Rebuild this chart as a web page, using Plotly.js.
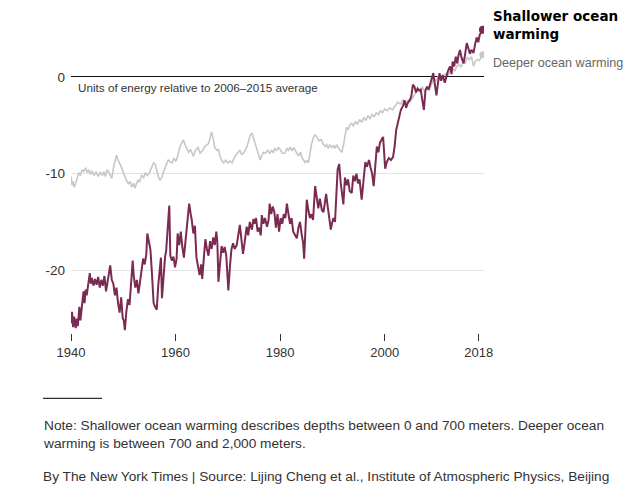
<!DOCTYPE html>
<html>
<head>
<meta charset="utf-8">
<script src="https://cdn.plot.ly/plotly-3.0.1.min.js"></script>
<style>html,body{margin:0;padding:0;background:#fff;}#chart{width:641px;height:499px;}</style>
</head>
<body>
<div id="chart"></div>
<script>
// Shallower ocean warming (0-700 m), units of energy relative to 2006-2015 average
const shallowYears = [1940.0,1940.2,1940.4,1940.6,1940.9,1941.1,1941.3,1941.6,1941.8,1942.0,1942.2,1942.4,1942.6,1942.8,1943.0,1943.3,1943.6,1943.8,1944.0,1944.3,1944.6,1944.9,1945.2,1945.5,1945.8,1946.1,1946.4,1946.7,1947.0,1947.3,1947.5,1947.8,1948.1,1948.4,1948.7,1949.0,1949.3,1949.6,1949.9,1950.1,1950.3,1950.6,1950.9,1951.2,1951.5,1951.8,1952.0,1952.3,1952.6,1952.9,1953.2,1953.5,1953.8,1954.1,1954.4,1954.6,1954.9,1955.2,1955.5,1955.8,1956.1,1956.4,1956.7,1957.0,1957.2,1957.4,1957.7,1958.0,1958.2,1958.5,1958.8,1959.0,1959.3,1959.6,1959.9,1960.2,1960.4,1960.7,1961.0,1961.3,1961.6,1961.9,1962.2,1962.6,1962.9,1963.1,1963.4,1963.7,1964.0,1964.3,1964.6,1964.9,1965.1,1965.4,1965.7,1966.0,1966.3,1966.6,1966.9,1967.2,1967.5,1967.8,1968.0,1968.2,1968.5,1968.8,1969.1,1969.4,1969.7,1969.9,1970.1,1970.4,1970.7,1971.0,1971.3,1971.7,1972.0,1972.3,1972.6,1972.9,1973.2,1973.6,1973.9,1974.2,1974.6,1974.9,1975.1,1975.4,1975.7,1976.0,1976.3,1976.5,1976.8,1977.1,1977.5,1977.8,1978.0,1978.3,1978.6,1978.9,1979.2,1979.5,1979.8,1980.1,1980.4,1980.7,1981.0,1981.3,1981.6,1981.9,1982.2,1982.5,1982.9,1983.2,1983.5,1983.8,1984.1,1984.4,1984.6,1984.9,1985.1,1985.4,1985.7,1986.0,1986.3,1986.7,1987.0,1987.3,1987.6,1988.0,1988.3,1988.6,1988.8,1989.1,1989.4,1989.7,1989.9,1990.2,1990.5,1990.8,1991.0,1991.3,1991.6,1992.1,1992.4,1992.7,1993.0,1993.3,1993.7,1994.0,1994.3,1994.6,1994.9,1995.2,1995.6,1995.9,1996.3,1996.6,1997.0,1997.3,1997.6,1997.9,1998.2,1998.5,1998.8,1999.1,1999.4,1999.7,2000.1,2000.4,2000.8,2001.2,2001.6,2001.9,2002.2,2002.5,2002.8,2003.1,2003.5,2003.8,2004.1,2004.4,2004.8,2005.1,2005.4,2005.7,2006.0,2006.3,2006.6,2006.9,2007.2,2007.5,2007.8,2008.1,2008.4,2008.7,2009.0,2009.3,2009.6,2009.9,2010.2,2010.5,2010.8,2011.1,2011.5,2011.8,2012.1,2012.5,2012.8,2013.0,2013.3,2013.6,2013.9,2014.1,2014.4,2014.7,2015.1,2015.4,2015.7,2016.0,2016.3,2016.6,2017.0,2017.3,2017.6,2017.9,2018.2,2018.5,2018.8];
const shallowValues = [-25.5,-24.3,-25.9,-24.8,-26.0,-25.0,-25.8,-23.8,-25.2,-24.0,-23.2,-22.2,-23.4,-22.0,-22.6,-21.2,-20.3,-21.4,-20.8,-21.6,-20.9,-21.5,-20.7,-21.8,-21.0,-21.6,-20.6,-22.2,-21.0,-20.2,-19.5,-21.0,-21.4,-22.6,-21.8,-23.4,-24.4,-22.8,-25.0,-25.2,-26.2,-24.2,-23.0,-23.6,-21.4,-19.0,-20.6,-21.8,-21.0,-22.4,-21.2,-20.2,-18.8,-19.4,-18.4,-16.2,-17.0,-17.9,-20.5,-23.4,-23.8,-24.1,-21.5,-19.2,-18.7,-22.9,-20.4,-18.6,-18.0,-16.0,-13.3,-18.5,-19.0,-18.6,-19.7,-18.8,-16.2,-17.4,-16.0,-17.6,-18.7,-17.0,-15.0,-13.1,-14.2,-14.8,-16.2,-15.4,-18.7,-19.8,-20.5,-19.4,-20.9,-18.8,-16.8,-17.8,-18.5,-17.0,-17.8,-16.6,-17.4,-16.0,-17.2,-21.2,-19.0,-17.5,-18.2,-17.6,-18.5,-20.4,-22.1,-19.6,-17.8,-17.2,-17.8,-17.4,-16.4,-15.3,-16.8,-18.3,-17.2,-15.5,-16.4,-15.0,-15.8,-14.7,-15.2,-14.6,-16.0,-15.6,-16.4,-14.3,-15.2,-14.6,-15.5,-14.8,-13.1,-14.2,-13.4,-14.0,-15.6,-14.2,-16.0,-14.6,-15.2,-14.2,-14.6,-13.1,-14.2,-15.2,-14.6,-16.0,-16.4,-16.7,-15.6,-15.0,-16.2,-17.2,-18.8,-15.4,-12.7,-13.8,-14.6,-14.2,-14.8,-11.3,-12.8,-13.6,-12.6,-13.8,-14.0,-13.0,-12.1,-13.4,-14.8,-15.8,-15.2,-14.6,-15.0,-12.0,-9.6,-9.0,-11.0,-13.2,-10.4,-11.2,-10.6,-11.8,-12.0,-10.2,-10.8,-10.0,-11.0,-10.6,-12.7,-11.0,-8.8,-9.3,-8.6,-9.4,-10.0,-11.3,-9.0,-7.2,-7.8,-6.8,-6.5,-6.2,-9.5,-8.8,-8.4,-8.6,-8.3,-7.2,-5.5,-4.8,-4.1,-3.4,-3.0,-2.4,-3.2,-2.7,-2.4,-2.0,-0.8,-1.0,-1.6,-1.2,-1.4,-1.3,-2.4,-3.4,-1.4,-1.0,-1.3,-0.7,-0.2,0.4,-0.8,-1.9,-0.6,0.4,-0.4,0.2,-0.6,0.0,0.6,1.1,0.3,1.6,1.1,2.1,1.4,2.2,2.8,2.0,1.4,2.4,3.5,3.0,2.4,2.8,2.5,3.4,4.1,3.6,4.4,4.6,4.9];

// Deeper ocean warming (700-2,000 m)
const deepYears = [1940.0,1940.2,1940.4,1940.6,1940.9,1941.2,1941.5,1941.8,1942.1,1942.4,1942.8,1943.1,1943.4,1943.7,1944.0,1944.4,1944.8,1945.2,1945.6,1946.0,1946.3,1946.6,1946.9,1947.3,1947.8,1948.2,1948.7,1949.0,1949.4,1949.7,1950.0,1950.3,1950.6,1951.0,1951.3,1951.6,1952.0,1952.2,1952.5,1952.8,1953.1,1953.5,1953.9,1954.2,1954.6,1955.0,1955.4,1955.8,1956.1,1956.4,1956.7,1957.0,1957.4,1957.7,1958.0,1958.3,1958.6,1959.0,1959.3,1959.7,1960.0,1960.2,1960.5,1960.8,1961.1,1961.5,1961.8,1962.1,1962.5,1962.9,1963.2,1963.4,1963.8,1964.3,1964.7,1965.2,1965.6,1966.0,1966.3,1966.6,1966.9,1967.2,1967.5,1967.9,1968.2,1968.5,1968.8,1969.2,1969.6,1970.0,1970.4,1970.8,1971.1,1971.4,1971.8,1972.3,1972.6,1973.0,1973.3,1973.6,1974.0,1974.3,1974.6,1974.9,1975.1,1975.5,1975.9,1976.2,1976.5,1976.8,1977.2,1977.6,1978.0,1978.4,1978.7,1979.0,1979.3,1979.7,1980.0,1980.4,1980.9,1981.3,1981.6,1981.9,1982.3,1982.6,1982.9,1983.2,1983.5,1983.9,1984.2,1984.5,1984.8,1985.1,1985.4,1985.7,1986.0,1986.4,1986.7,1987.0,1987.4,1987.9,1988.2,1988.6,1988.9,1989.2,1989.5,1989.9,1990.2,1990.5,1990.8,1991.1,1991.4,1991.8,1992.1,1992.4,1992.7,1993.0,1993.3,1993.7,1994.0,1994.4,1994.8,1995.2,1995.6,1996.0,1996.4,1996.8,1997.2,1997.6,1998.0,1998.4,1998.8,1999.2,1999.6,2000.0,2000.5,2001.0,2001.5,2002.0,2002.5,2003.0,2003.5,2004.0,2004.5,2005.0,2005.5,2006.0,2006.4,2006.8,2007.2,2007.6,2008.0,2008.5,2009.0,2009.4,2009.8,2010.2,2010.6,2011.0,2011.4,2011.8,2012.2,2012.6,2013.0,2013.4,2013.8,2014.2,2014.6,2015.0,2015.4,2015.8,2016.2,2016.6,2017.0,2017.3,2017.7,2018.1,2018.5,2018.8];
const deepValues = [-10.3,-11.2,-10.8,-11.4,-11.0,-10.4,-9.9,-10.2,-9.6,-9.8,-9.4,-9.9,-9.6,-10.1,-9.7,-10.2,-9.8,-10.3,-9.9,-10.2,-9.8,-10.3,-9.6,-9.9,-10.5,-9.2,-8.1,-8.6,-9.0,-9.4,-9.9,-10.4,-10.7,-11.1,-10.8,-11.4,-11.0,-11.5,-11.0,-10.7,-10.9,-10.2,-10.4,-9.9,-10.2,-9.9,-9.4,-8.9,-9.0,-9.8,-10.3,-10.7,-10.4,-9.8,-9.3,-9.0,-8.6,-8.8,-8.9,-8.4,-8.7,-8.6,-7.8,-7.3,-6.9,-6.5,-7.0,-7.3,-7.8,-7.5,-8.0,-8.2,-7.6,-7.3,-7.9,-7.6,-7.2,-7.0,-6.9,-6.3,-5.7,-6.4,-7.3,-7.6,-7.5,-8.2,-8.6,-8.9,-8.6,-8.9,-8.7,-8.9,-8.5,-8.2,-7.9,-7.6,-8.0,-7.9,-7.6,-7.3,-6.6,-6.0,-5.8,-6.3,-6.6,-7.2,-7.9,-8.6,-8.1,-7.8,-7.9,-7.6,-7.9,-7.6,-7.8,-7.4,-7.6,-7.3,-7.5,-7.9,-7.9,-7.4,-7.6,-7.3,-7.6,-7.3,-7.6,-7.9,-8.2,-7.8,-8.4,-8.6,-8.9,-8.6,-8.9,-8.0,-7.0,-6.2,-6.0,-6.2,-6.6,-6.5,-6.9,-7.2,-7.0,-7.4,-7.0,-7.3,-7.1,-7.4,-7.0,-7.3,-7.5,-7.8,-7.1,-6.0,-5.2,-5.5,-5.0,-4.8,-5.1,-4.6,-4.9,-4.4,-4.7,-4.2,-4.5,-4.0,-4.3,-3.9,-4.1,-3.7,-3.9,-3.5,-3.7,-3.3,-3.5,-3.2,-3.4,-3.0,-2.6,-2.8,-2.4,-2.7,-2.4,-2.5,-2.0,-1.6,-1.2,-1.6,-1.0,-1.5,-1.1,-1.4,-0.6,-0.2,-0.4,0.0,-0.3,0.0,0.2,0.4,0.2,0.7,0.9,0.6,1.1,1.3,1.0,1.6,1.4,2.0,1.8,2.1,1.1,1.6,1.8,1.7,2.0,2.3];

const xTicks = [1940, 1960, 1980, 2000, 2018];
const yTicks = [-20, -10, 0];
const yTickLabels = ['-20', '-10', '0'];

const shallowColor = '#7b2a52';
const deepColor = '#c9c7c4';
const font = 'Liberation Sans, Arial, sans-serif';

const traces = [
  {x: deepYears, y: deepValues, type: 'scatter', mode: 'lines',
   line: {color: deepColor, width: 1.6}, hoverinfo: 'skip'},
  {x: [deepYears[deepYears.length-1]], y: [deepValues[deepValues.length-1]], type: 'scatter', mode: 'markers',
   marker: {color: deepColor, size: 7}, hoverinfo: 'skip'},
  {x: shallowYears, y: shallowValues, type: 'scatter', mode: 'lines',
   line: {color: shallowColor, width: 2}, hoverinfo: 'skip'},
  {x: [shallowYears[shallowYears.length-1]], y: [shallowValues[shallowValues.length-1]], type: 'scatter', mode: 'markers',
   marker: {color: shallowColor, size: 8}, hoverinfo: 'skip'}
];

const layout = {
  width: 641, height: 499,
  margin: {l: 71, r: 157, t: 19, b: 166, pad: 0},
  paper_bgcolor: '#fff', plot_bgcolor: '#fff',
  showlegend: false,
  font: {family: font, size: 13, color: '#333'},
  xaxis: {
    range: [1940, 2019], tickvals: xTicks, ticktext: xTicks.map(String),
    showgrid: false, zeroline: false, showline: false,
    ticks: 'outside', ticklen: 7, tickwidth: 1, tickcolor: '#333',
    tickfont: {family: font, size: 13, color: '#333'}
  },
  yaxis: {
    range: [-26.5, 6], tickvals: yTicks, ticktext: yTickLabels,
    showgrid: true, gridcolor: '#e3e3e3', gridwidth: 1,
    zeroline: true, zerolinecolor: '#111', zerolinewidth: 1,
    showline: false, ticks: '', ticklabelstandoff: 5,
    tickfont: {family: font, size: 13.5, color: '#333'}
  },
  shapes: [
    {type: 'line', xref: 'paper', yref: 'paper', x0: -0.0678, x1: 0.0751, y0: -0.208, y1: -0.208,
     line: {color: '#000', width: 1}}
  ],
  annotations: [
    {xref: 'paper', yref: 'paper', x: 0.012, y: 0.7803, xanchor: 'left', yanchor: 'middle',
     text: 'Units of energy relative to 2006–2015 average', showarrow: false,
     font: {family: font, size: 11.7, color: '#333'}},
    {xref: 'paper', yref: 'paper', x: 1.016, y: 0.9818, xanchor: 'left', yanchor: 'middle', align: 'left',
     text: '<b>Shallower ocean<br>warming</b>', showarrow: false,
     font: {family: 'DejaVu Sans, sans-serif', size: 13.5, color: '#000'}},
    {xref: 'paper', yref: 'paper', x: 1.016, y: 0.860, xanchor: 'left', yanchor: 'middle', align: 'left',
     text: 'Deeper ocean warming', showarrow: false,
     font: {family: font, size: 12.6, color: '#666'}},
    {xref: 'paper', yref: 'paper', x: -0.0727, y: -0.3227, xanchor: 'left', yanchor: 'middle', align: 'left',
     text: 'Note: Shallower ocean warming describes depths between 0 and 700 meters. Deeper ocean<br>warming is between 700 and 2,000 meters.',
     showarrow: false, font: {family: font, size: 13.7, color: '#333'}},
    {xref: 'paper', yref: 'paper', x: -0.0727, y: -0.457, xanchor: 'left', yanchor: 'middle', align: 'left',
     text: 'By The New York Times | Source: Lijing Cheng et al., Institute of Atmospheric Physics, Beijing',
     showarrow: false, font: {family: font, size: 13.7, color: '#333'}}
  ]
};

Plotly.newPlot('chart', traces, layout, {staticPlot: true, displayModeBar: false});
</script>
</body>
</html>
